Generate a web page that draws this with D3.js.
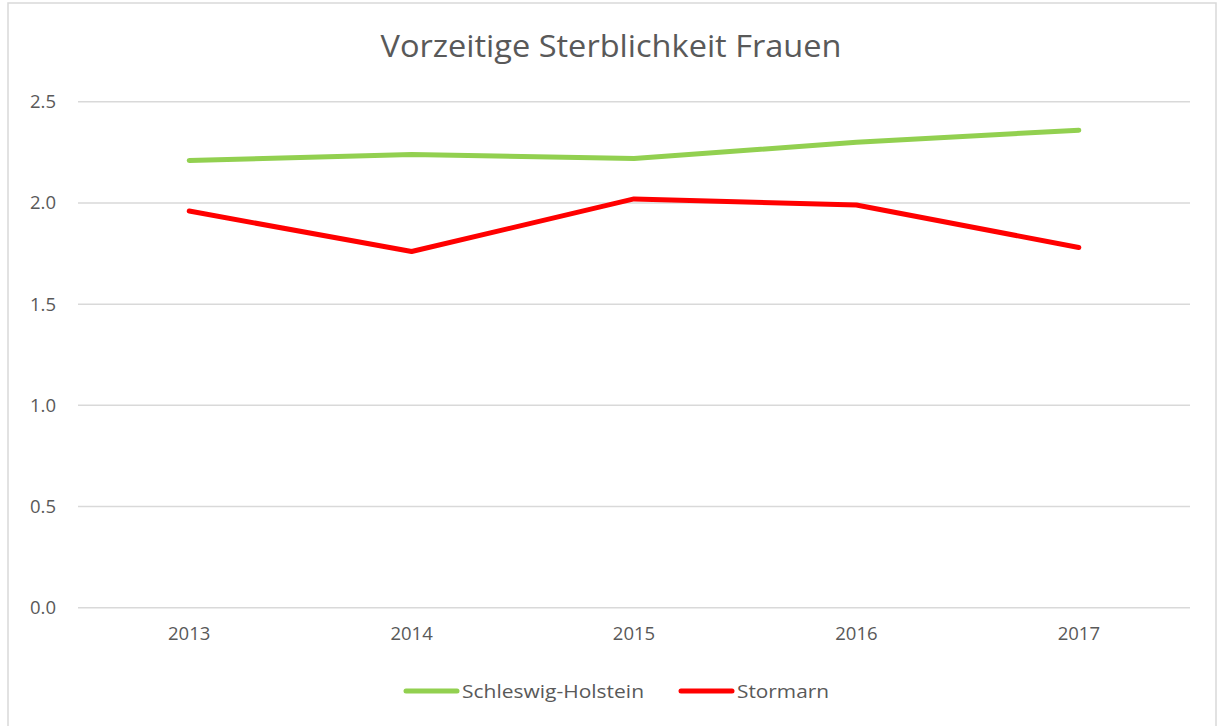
<!DOCTYPE html>
<html><head><meta charset="utf-8">
<script src="https://cdn.jsdelivr.net/npm/d3@7"></script>
<style>body{margin:0;background:#fff}svg{display:block}</style>
</head><body>
<script>
const years = ["2013","2014","2015","2016","2017"];
const shValues = [2.21, 2.24, 2.22, 2.30, 2.36];
const stormarnValues = [1.96, 1.76, 2.02, 1.99, 1.78];
const yTicks = [0, 0.5, 1.0, 1.5, 2.0, 2.5];
const seriesNames = ["Schleswig-Holstein", "Stormarn"];
const seriesColors = ["#92D050", "#FF0000"];
const title = "Vorzeitige Sterblichkeit Frauen";

const W = 1219, H = 726;
const svg = d3.select("body").append("svg").attr("width", W).attr("height", H);
const font = "'Open Sans', sans-serif";
const textColor = "#595959";

svg.append("rect").attr("x", 8).attr("y", 3).attr("width", 1208).attr("height", 740)
  .attr("fill", "#fff").attr("stroke", "#D9D9D9").attr("stroke-width", 1.5);

const x = d3.scaleBand().domain(years).range([78, 1190]);
const y = d3.scaleLinear().domain([0, 2.5]).range([607.7, 101.8]);

// gridlines
svg.append("g").selectAll("line").data(yTicks).join("line")
  .attr("x1", 78).attr("x2", 1190)
  .attr("y1", d => y(d)).attr("y2", d => y(d))
  .attr("stroke", "#D9D9D9").attr("stroke-width", 1.5);

// y axis labels
const yAxis = d3.axisLeft(y).tickValues(yTicks).tickFormat(d3.format(".1f")).tickSize(0).tickPadding(0);
const gy = svg.append("g").attr("transform", "translate(56,0)").call(yAxis);
gy.select(".domain").remove();
gy.selectAll("text").attr("font-family", font).attr("font-size", 18.5).attr("fill", textColor);

// x axis labels
const xAxis = d3.axisBottom(x).tickSize(0).tickPadding(0);
const gx = svg.append("g").attr("transform", "translate(0,627)").call(xAxis);
gx.select(".domain").remove();
gx.selectAll("text").attr("font-family", font).attr("font-size", 18.5).attr("fill", textColor);

// lines
const line = d3.line().x((d, i) => x(years[i]) + x.bandwidth() / 2).y(d => y(d));
[shValues, stormarnValues].forEach((vals, k) => {
  svg.append("path").datum(vals).attr("d", line)
    .attr("fill", "none").attr("stroke", seriesColors[k]).attr("stroke-width", 5)
    .attr("stroke-linecap", "round").attr("stroke-linejoin", "round");
});

// title
svg.append("text").attr("x", 611).attr("y", 57).attr("text-anchor", "middle")
  .attr("font-family", font).attr("font-size", 31).attr("fill", textColor)
  .attr("textLength", 461).attr("lengthAdjust", "spacingAndGlyphs").text(title);

// legend
const legendItems = [
  {x1: 406, x2: 457, tx: 462, tl: 182},
  {x1: 681, x2: 732, tx: 737, tl: 92}
];
legendItems.forEach((it, k) => {
  svg.append("line").attr("x1", it.x1).attr("x2", it.x2).attr("y1", 691).attr("y2", 691)
    .attr("stroke", seriesColors[k]).attr("stroke-width", 5).attr("stroke-linecap", "round");
  svg.append("text").attr("x", it.tx).attr("y", 698).attr("font-family", font)
    .attr("font-size", 18.5).attr("fill", textColor)
    .attr("textLength", it.tl).attr("lengthAdjust", "spacingAndGlyphs").text(seriesNames[k]);
});
</script>
</body></html>
